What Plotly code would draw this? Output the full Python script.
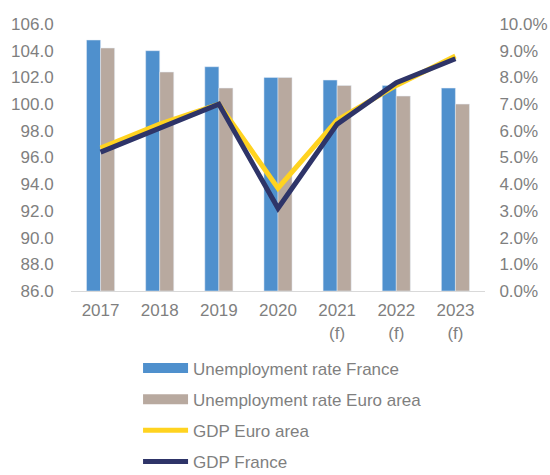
import plotly.graph_objects as go

years = ["2017", "2018", "2019", "2020", "2021<br>(f)", "2022<br>(f)", "2023<br>(f)"]
unemp_france = [9.4, 9.0, 8.4, 8.0, 7.9, 7.7, 7.6]
unemp_euro = [9.1, 8.2, 7.6, 8.0, 7.7, 7.3, 7.0]
gdp_euro = [96.7, 98.5, 100.0, 93.7, 98.8, 101.4, 103.6]
gdp_france = [96.4, 98.2, 100.0, 92.2, 98.5, 101.6, 103.4]

FONT = "Liberation Sans, Arial, sans-serif"
GREY = "#7f7f7f"
BLUE = "#4F90CD"
TAUPE = "#B8A99F"
YELLOW = "#FFD320"
NAVY = "#2E3468"

fig = go.Figure()
fig.add_trace(go.Bar(x=years, y=unemp_france, name="Unemployment rate France",
                     marker_color=BLUE, yaxis="y", showlegend=False))
fig.add_trace(go.Bar(x=years, y=unemp_euro, name="Unemployment rate Euro area",
                     marker_color=TAUPE, yaxis="y", showlegend=False))
# legend entries for bars drawn as thick strokes
fig.add_trace(go.Scatter(x=[None], y=[None], mode="lines", name="Unemployment rate France",
                         line=dict(color=BLUE, width=10), yaxis="y", legendgroup="a"))
fig.add_trace(go.Scatter(x=[None], y=[None], mode="lines", name="Unemployment rate Euro area",
                         line=dict(color=TAUPE, width=10), yaxis="y", legendgroup="b"))
fig.add_trace(go.Scatter(x=years, y=gdp_euro, name="GDP Euro area", mode="lines",
                         line=dict(color=YELLOW, width=5), yaxis="y2", legendgroup="c"))
fig.add_trace(go.Scatter(x=years, y=gdp_france, name="GDP France", mode="lines",
                         line=dict(color=NAVY, width=5), yaxis="y2", legendgroup="d"))

fig.update_layout(
    width=550, height=475,
    margin=dict(l=71, r=65, t=24, b=184, autoexpand=False),
    paper_bgcolor="white", plot_bgcolor="white",
    font=dict(family=FONT, size=17, color=GREY),
    barmode="group", bargap=0.525, bargroupgap=0,
    showlegend=True,
    legend=dict(xref="container", x=0.251, xanchor="left",
                yref="container", y=0.262, yanchor="top", orientation="v",
                itemwidth=45, tracegroupgap=6,
                font=dict(size=17, color=GREY), bgcolor="rgba(0,0,0,0)"),
    xaxis=dict(showline=True, linecolor="#d9d9d9", linewidth=1, showgrid=False,
               ticks="outside", ticklen=4, tickcolor="rgba(0,0,0,0)",
               tickfont=dict(size=17, color=GREY), automargin=False),
    yaxis=dict(side="right", range=[0, 10], dtick=1, ticksuffix="%", tickformat=".1f",
               showgrid=False, zeroline=False, ticks="outside", ticklen=10,
               tickcolor="rgba(0,0,0,0)", tickfont=dict(size=17, color=GREY), automargin=False),
    yaxis2=dict(side="left", overlaying="y", range=[86, 106], dtick=2, tickformat=".1f",
                showgrid=False, zeroline=False, ticks="outside", ticklen=13,
                tickcolor="rgba(0,0,0,0)", tickfont=dict(size=17, color=GREY), automargin=False),
)

fig.write_html(
    "out.html",
    config={"displayModeBar": False},
    post_script="document.body.style.margin='0';document.body.style.overflow='hidden';",
)
